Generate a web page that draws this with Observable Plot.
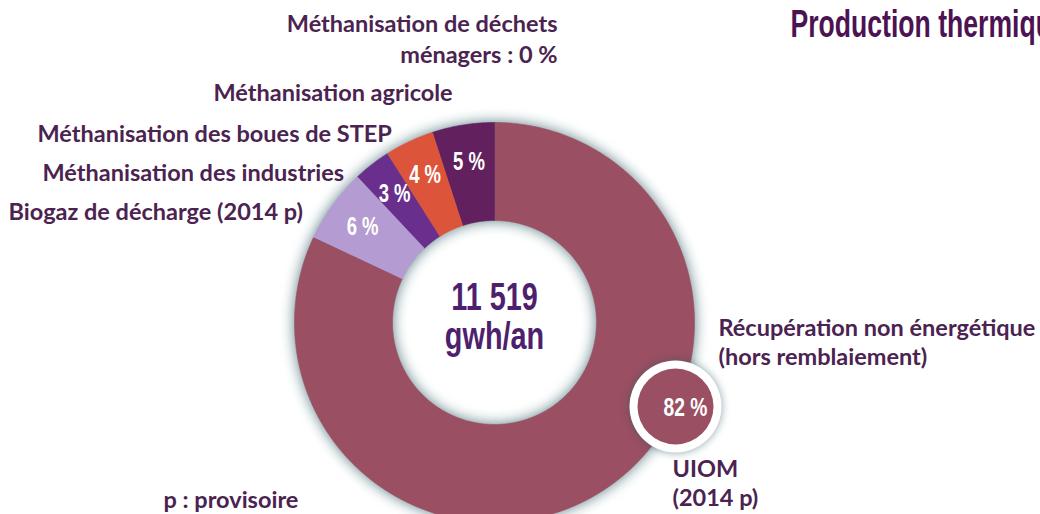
<!DOCTYPE html>
<html>
<head>
<meta charset="utf-8">
<script src="https://cdn.jsdelivr.net/npm/d3@7"></script>
<script src="https://cdn.jsdelivr.net/npm/@observablehq/plot@0.6"></script>
<style>
  html, body { margin: 0; padding: 0; background: #ffffff; }
  #chart svg { display: block; }
  #chart svg g[aria-label="line"] { filter: drop-shadow(0px 0px 7px rgba(40, 85, 95, 0.75)); }
</style>
</head>
<body>
<div id="chart"></div>
<script>
// ---- Data ----
const categories = [
  "UIOM (2014 p)",
  "Biogaz de décharge (2014 p)",
  "Méthanisation des industries",
  "Méthanisation des boues de STEP",
  "Méthanisation agricole",
  "Méthanisation de déchets ménagers"
];
const shares = [82, 6, 3, 4, 5, 0];           // % of total
const totalValue = "11 519";
const totalUnit = "gwh/an";
const titleText = "Production thermique";
const noteText = "p : provisoire";
const groupLabel = "Récupération non énergétique\n(hors remblaiement)";

// ---- Styling ----
const sliceColors = ["#9a4f62", "#b49bd2", "#6a2e8d", "#dc553b", "#62205e", "#4a1a50"];
const labelColor = "#4b2350";
const centerColor = "#4e1f6e";
const titleColor = "#4c1352";
const labelFont = "Lato, 'Open Sans', sans-serif";
const condensedFont = "'Liberation Sans', Arial, sans-serif";
const titleFont = "'Liberation Sans', Arial, Helvetica, sans-serif";
const CONDENSE = 0.74;
const TITLE_CONDENSE = 0.70;
const LABEL_WEIGHT = "bold";
const LABEL_SIZE = 23.5;

// ---- Geometry (pixel-like data units) ----
const W = 1040, H = 514;
const CX = 494, CY = 322, R_OUT = 200, R_IN = 102, R_LABEL = 163;

const fmtPct = v => `${v} %`;

// Build ring polygons from the shares
const ring = [];
const mids = [];
let acc = 0;
const total = d3.sum(shares);
categories.forEach((cat, i) => {
  const a0 = acc / total * 2 * Math.PI;
  acc += shares[i];
  const a1 = acc / total * 2 * Math.PI;
  if (shares[i] <= 0) return;
  const n = Math.max(2, Math.ceil((a1 - a0) / (Math.PI / 360)));
  for (let k = 0; k <= n; k++) {
    const a = a0 + (a1 - a0) * k / n;
    ring.push({cat, x: CX + R_OUT * Math.sin(a), y: CY - R_OUT * Math.cos(a)});
  }
  for (let k = n; k >= 0; k--) {
    const a = a0 + (a1 - a0) * k / n;
    ring.push({cat, x: CX + R_IN * Math.sin(a), y: CY - R_IN * Math.cos(a)});
  }
  const am = (a0 + a1) / 2;
  mids.push({cat, value: shares[i], x: CX + R_LABEL * Math.sin(am), y: CY - R_LABEL * Math.cos(am)});
});
const smallSlices = mids.filter(d => d.value < 50);

// Category labels (annotation positions)
const leftLabels = [
  {text: categories[4], x: 213, y: 93},
  {text: categories[3], x: 37, y: 134},
  {text: categories[2], x: 42, y: 173},
  {text: categories[1], x: 8, y: 212}
];
const topLabel = {text: `Méthanisation de déchets\nménagers : ${fmtPct(shares[5])}`, x: 557, y: 37};
const badge = {x: 675, y: 406};

const chart = Plot.plot({
  width: W,
  height: H,
  margin: 0,
  x: {domain: [0, W], range: [0, W], axis: null},
  y: {domain: [0, H], range: [0, H], axis: null},
  color: {domain: categories, range: sliceColors},
  style: {background: "#ffffff", fontFamily: labelFont, overflow: "hidden"},
  marks: [
    // donut ring
    Plot.line(ring, {
      x: "x", y: "y", z: "cat", fill: "cat", stroke: "cat", strokeWidth: 0.6,
      curve: "linear"
    }),
    // percentage labels on small slices
    Plot.text(smallSlices, {
      x: "x", y: "y", text: d => fmtPct(d.value),
      fill: "#ffffff", fontSize: 25, fontWeight: "bold", fontFamily: condensedFont
    }),
    // center total
    Plot.text([totalValue], {
      x: CX, y: 297, text: d => d, fill: centerColor,
      fontSize: 39, fontWeight: "bold", fontFamily: condensedFont
    }),
    Plot.text([totalUnit], {
      x: CX, y: 336, text: d => d, fill: centerColor,
      fontSize: 39, fontWeight: "bold", fontFamily: condensedFont
    }),
    // 82 % badge
    Plot.dot([badge], {x: "x", y: "y", r: 46, fill: "#ffffff", stroke: null}),
    Plot.dot([badge], {x: "x", y: "y", r: 38, fill: sliceColors[0], stroke: null}),
    Plot.text([shares[0]], {
      x: badge.x + 10, y: badge.y + 1, text: d => fmtPct(d),
      fill: "#ffffff", fontSize: 26, fontWeight: "bold", fontFamily: condensedFont
    }),
    // labels
    Plot.text([topLabel], {
      x: "x", y: "y", text: "text", textAnchor: "end", lineHeight: 1.3,
      fill: labelColor, fontSize: LABEL_SIZE, fontWeight: LABEL_WEIGHT
    }),
    Plot.text(leftLabels, {
      x: "x", y: "y", text: "text", textAnchor: "start",
      fill: labelColor, fontSize: LABEL_SIZE, fontWeight: LABEL_WEIGHT
    }),
    Plot.text([groupLabel], {
      x: 718, y: 341, text: d => d, textAnchor: "start", lineHeight: 1.2,
      fill: labelColor, fontSize: LABEL_SIZE, fontWeight: LABEL_WEIGHT
    }),
    Plot.text([categories[0].replace(" (", "\n(")], {
      x: 672, y: 482, text: d => d, textAnchor: "start", lineHeight: 1.2,
      fill: labelColor, fontSize: LABEL_SIZE, fontWeight: LABEL_WEIGHT
    }),
    Plot.text([noteText], {
      x: 163, y: 500, text: d => d, textAnchor: "start",
      fill: labelColor, fontSize: LABEL_SIZE, fontWeight: LABEL_WEIGHT
    }),
    // title (clipped by the frame, as in the reference)
    Plot.text([titleText], {
      x: 790, y: 24, text: d => d, textAnchor: "start",
      fill: titleColor, fontSize: 38, fontWeight: "bold", fontFamily: titleFont
    })
  ]
});

// Condense the display-font texts horizontally (no condensed font is installed)
chart.querySelectorAll("g[font-family]").forEach(g => {
  const ff = g.getAttribute("font-family");
  const k = ff === condensedFont ? CONDENSE : ff === titleFont ? TITLE_CONDENSE : null;
  if (k == null) return;
  g.querySelectorAll("text").forEach(t => {
    const tr = t.getAttribute("transform") || "";
    const x = t.getAttribute("x"), y = t.getAttribute("y");
    if (tr) {
      t.setAttribute("transform", `${tr} scale(${k},1)`);
    } else if (x != null && y != null) {
      t.setAttribute("transform", `translate(${x},${y}) scale(${k},1)`);
      t.setAttribute("x", 0); t.setAttribute("y", 0);
    }
  });
});
// soft shadow around the badge
const badgeDot = chart.querySelectorAll('g[aria-label="dot"]')[0];
if (badgeDot) badgeDot.style.filter = "drop-shadow(0px 0px 4px rgba(40, 85, 95, 0.55))";

document.getElementById("chart").appendChild(chart);
</script>
</body>
</html>
